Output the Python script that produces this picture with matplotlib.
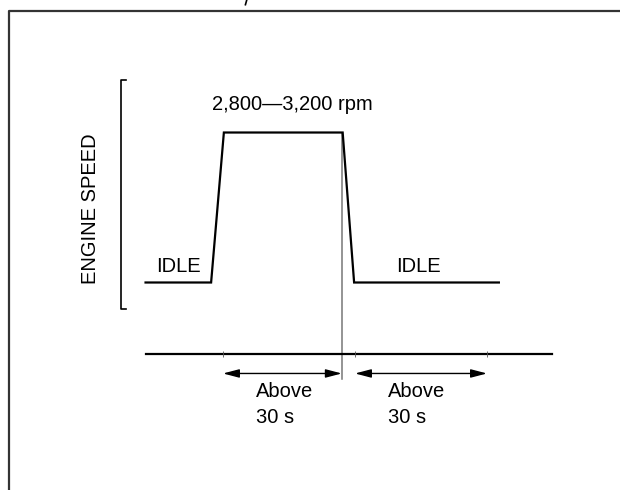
import matplotlib.pyplot as plt

plt.rcParams['font.family'] = ['Liberation Sans', 'DejaVu Sans']

# engine speed profile (seconds, rpm)
time_s = [-17.6, -2.7, 0.2, 27.2, 29.8, 62.7]
speed_rpm = [700, 700, 3000, 3000, 700, 700]

tick_times = [0, 30, 60]
hold_spans = [(0, 27), (30, 60)]
span_labels = ['Above\n30 s', 'Above\n30 s']
idle_labels = ['IDLE', 'IDLE']
idle_label_times = [-15.1, 39.3]
rpm_label = '2,800\u20143,200 rpm'
y_label = 'ENGINE SPEED'
cut_time = 27

fs = 14.5

fig = plt.figure(figsize=(6.2, 4.9), dpi=100)
ax = fig.add_axes([0, 0, 1, 1])
ax.set_xlim(-50.68, 90.23)
ax.set_ylim(-2482, 5032)
ax.axis('off')

# frame (only top and left edges visible)
ax.plot([-48.7, -48.7, 95], [-3000, 4868, 4868], color='#333333', lw=1.6)
# bit of the caption above the frame, cut off by the image edge
ax.plot([5.4, 5.1], [5032, 4960], color='black', lw=1.2)

# speed bracket
bx = -23.25
ax.plot([bx + 1.1, bx, bx, bx + 1.1], [3805, 3805, 294, 294], color='black',
        lw=1.2)
ax.text(-30.0, 1827, y_label, rotation=90, ha='center', va='center',
        fontsize=fs)

# profile
ax.plot(time_s, speed_rpm, color='black', lw=1.6, solid_joinstyle='miter')
ax.text(-2.5, 3437, rpm_label, ha='left', va='center', fontsize=fs)
for lab, t in zip(idle_labels, idle_label_times):
    ax.text(t, 945, lab, ha='left', va='center', fontsize=fs)

# cut-over marker
ax.plot([cut_time, cut_time], [3000, -780], color='#777777', lw=1.1, zorder=1)

# timeline
ax.plot([-17.6, 74.7], [-396, -396], color='black', lw=1.6)
ax.plot(tick_times, [-396] * len(tick_times), ls='none', marker='|',
        ms=4, mew=0.6, color='#555555')

for (t0, t1), lab in zip(hold_spans, span_labels):
    ax.annotate('', xy=(t1, -695), xytext=(t0, -695),
                arrowprops=dict(arrowstyle='<|-|>,head_length=0.65,head_width=0.17',
                                mutation_scale=15, color='black', lw=1.0,
                                shrinkA=0, shrinkB=0))
    ax.text(t0 + 7.5, -830, lab, ha='left', va='top', fontsize=fs,
            linespacing=1.45)

fig.savefig('out.png', dpi=100)
